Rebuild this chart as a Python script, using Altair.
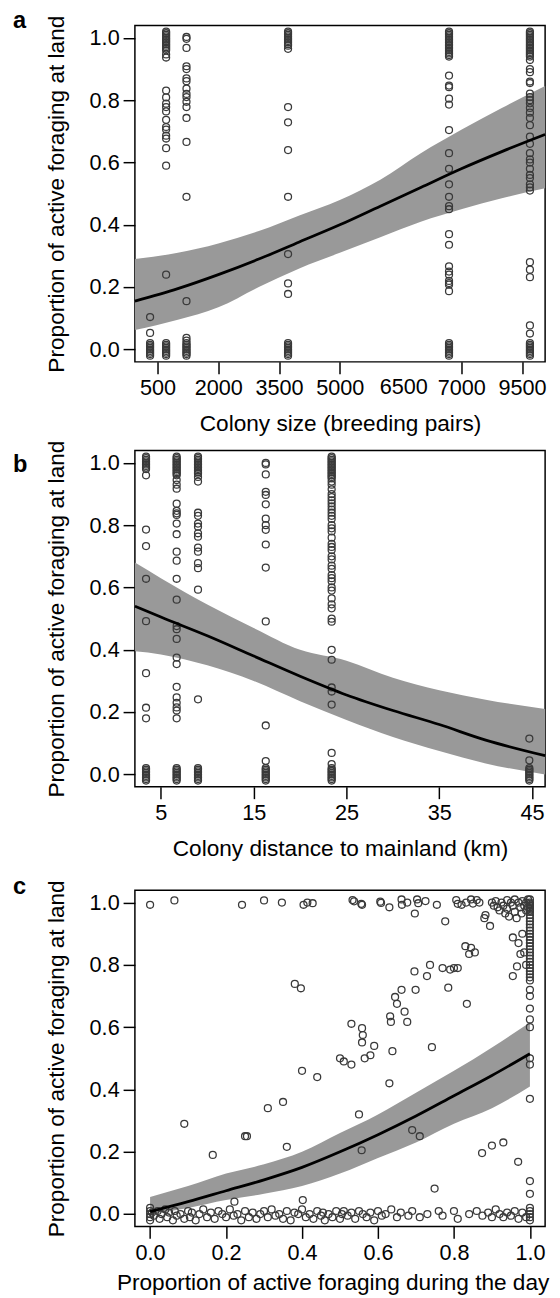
import altair as alt
import pandas as pd

FONT = "Liberation Sans"
W = 417
HA, HB, HC = 342, 342, 342
PT = "#3a3a3a"
RIB = "#999999"
Y_TITLE = "Proportion of active foraging at land"
Y_TICKS = [0.0, 0.2, 0.4, 0.6, 0.8, 1.0]
Y_DOM = [-0.04, 1.04]

zero_stack = [0.02, 0.015, 0.01, 0.005, 0.0, -0.005, -0.01, -0.015, -0.02]
one_stack = [1.02, 1.015, 1.01, 1.005, 1.0, 0.995, 0.99, 0.985, 0.98]

# ---------------- panel a: colony size ----------------
a_col_x = [315, 711, 1214, 3722, 7697, 9695]
a_col_y = [
    [0.104, 0.053] + zero_stack,
    one_stack + [0.975, 0.97, 0.965, 0.96, 0.947, 0.937, 0.831, 0.809, 0.789, 0.778, 0.764,
                 0.737, 0.714, 0.706, 0.686, 0.677, 0.646, 0.59, 0.24] + zero_stack,
    [1.003, 0.997, 0.968, 0.909, 0.90, 0.87, 0.861, 0.837, 0.82, 0.81, 0.795, 0.778, 0.743,
     0.666, 0.49, 0.155, 0.037, 0.028] + zero_stack,
    one_stack + [0.975, 0.965, 0.778, 0.729, 0.64, 0.49, 0.306, 0.212, 0.178] + zero_stack,
    one_stack + [0.975, 0.97, 0.965, 0.96, 0.955, 0.95, 0.945, 0.94, 0.879, 0.847, 0.842, 0.805,
                 0.786, 0.704, 0.63, 0.58, 0.53, 0.49, 0.46, 0.45, 0.37, 0.336, 0.267, 0.25,
                 0.24, 0.22, 0.213, 0.208, 0.187] + zero_stack,
    one_stack + [0.975, 0.97, 0.965, 0.96, 0.955, 0.95, 0.945, 0.94, 0.929, 0.90, 0.89, 0.86,
                 0.855, 0.821, 0.81, 0.80, 0.79, 0.775, 0.76, 0.743, 0.72, 0.683, 0.66, 0.63,
                 0.61, 0.60, 0.58, 0.56, 0.55, 0.53, 0.52, 0.51, 0.28, 0.256, 0.232, 0.077,
                 0.051] + zero_stack,
]
a_fit_x = [-60, 1000, 2000, 3000, 4000, 5000, 6000, 7000, 8000, 9000, 10070]
a_fit = [0.155, 0.195, 0.24, 0.29, 0.345, 0.40, 0.46, 0.52, 0.58, 0.635, 0.69]
a_lo = [0.062, 0.095, 0.135, 0.20, 0.26, 0.31, 0.36, 0.41, 0.45, 0.485, 0.517]
a_hi = [0.29, 0.31, 0.34, 0.38, 0.43, 0.48, 0.545, 0.63, 0.705, 0.775, 0.846]
a_ticks = [500, 2000, 3500, 5000, 8000, 9500]
a_tick_labels = ["500", "2000", "3500", "5000", "7000", "9500"]
a_extra_x = [6580]
a_extra_label = ["6500"]
a_dom = [-60, 10070]

# ---------------- panel b: distance to mainland ----------------
b_col_x = [3.4, 6.7, 9.0, 16.3, 23.4, 44.7]
b_col_y = [
    one_stack + [0.96, 0.786, 0.733, 0.628, 0.492, 0.325, 0.214, 0.18] + zero_stack,
    one_stack + [0.975, 0.97, 0.965, 0.96, 0.945, 0.93, 0.917, 0.869, 0.846, 0.838, 0.833,
                 0.805, 0.771, 0.715, 0.686, 0.628, 0.561, 0.476, 0.466, 0.435, 0.375, 0.354,
                 0.281, 0.247, 0.23, 0.215, 0.205, 0.18] + zero_stack,
    one_stack + [0.975, 0.97, 0.965, 0.955, 0.94, 0.84, 0.83, 0.805, 0.795, 0.774, 0.763,
                 0.728, 0.715, 0.678, 0.662, 0.593, 0.241] + zero_stack,
    [1.0, 0.995, 0.963, 0.907, 0.897, 0.867, 0.821, 0.80, 0.785, 0.738, 0.664, 0.491, 0.157,
     0.043] + zero_stack,
    one_stack + [0.975, 0.97, 0.965, 0.96, 0.955, 0.95, 0.94, 0.93, 0.915, 0.90, 0.89, 0.88,
                 0.87, 0.86, 0.85, 0.84, 0.83, 0.82, 0.80, 0.79, 0.78, 0.76, 0.74, 0.73, 0.72,
                 0.70, 0.69, 0.67, 0.66, 0.64, 0.63, 0.62, 0.60, 0.59, 0.565, 0.546, 0.533,
                 0.50, 0.49, 0.40, 0.368, 0.279, 0.266, 0.224, 0.069, 0.033] + zero_stack,
    [0.115, 0.045] + zero_stack,
]
b_fit_x = [2.2, 5, 10, 15, 20, 25, 30, 35, 40, 46.4]
b_fit = [0.54, 0.505, 0.445, 0.38, 0.315, 0.255, 0.205, 0.16, 0.11, 0.06]
b_lo = [0.395, 0.385, 0.35, 0.30, 0.235, 0.175, 0.12, 0.075, 0.035, 0.0]
b_hi = [0.68, 0.63, 0.545, 0.47, 0.40, 0.365, 0.31, 0.27, 0.24, 0.21]
b_ticks = [5, 15, 25, 35, 45]
b_dom = [2.2, 46.4]

# ---------------- panel c: active foraging during the day ----------------
c_top = [
    [0.0, 0.993], [0.064, 1.007], [0.242, 0.993], [0.30, 1.007], [0.347, 1.0], [0.404, 0.993],
    [0.414, 1.0], [0.428, 0.998], [0.533, 1.008], [0.537, 1.004], [0.556, 0.996], [0.558, 0.993],
    [0.606, 1.003], [0.608, 0.999], [0.63, 0.985], [0.662, 1.01], [0.663, 0.993], [0.677, 1.0],
    [0.697, 0.965], [0.703, 1.01], [0.706, 0.998], [0.725, 1.005], [0.755, 0.993], [0.777, 0.94],
    [0.806, 1.008], [0.81, 0.996], [0.82, 0.993], [0.832, 1.0], [0.845, 1.01], [0.85, 0.997],
    [0.86, 1.008], [0.867, 1.0], [0.88, 0.95], [0.883, 0.96], [0.895, 0.925], [0.90, 1.0],
    [0.905, 0.99], [0.91, 1.005], [0.915, 0.985], [0.92, 0.975], [0.925, 1.0], [0.93, 0.99],
    [0.935, 0.965], [0.94, 1.008], [0.94, 0.98], [0.945, 0.955], [0.95, 1.0], [0.955, 0.99],
    [0.96, 0.97], [0.96, 1.01], [0.965, 0.95], [0.97, 1.0], [0.975, 0.985], [0.978, 0.965],
    [0.98, 1.005], [0.985, 0.99], [0.99, 1.0], [0.99, 0.975], [0.995, 1.01], [0.995, 0.985],
]
c_right_col = [1.01, 1.0, 0.995, 0.99, 0.985, 0.98, 0.975, 0.97, 0.96, 0.95, 0.94, 0.93, 0.92,
               0.91, 0.90, 0.89, 0.88, 0.87, 0.86, 0.85, 0.84, 0.83, 0.82, 0.81, 0.80, 0.79,
               0.78, 0.77, 0.76, 0.75, 0.72, 0.70, 0.66, 0.625, 0.60, 0.50, 0.48, 0.37, 0.106,
               0.065]
c_mid = [
    [0.955, 0.888], [0.966, 0.795], [0.955, 0.764], [0.975, 0.835], [0.98, 0.90], [0.985, 0.84],
    [0.99, 0.80], [0.97, 0.87], [0.83, 0.86], [0.845, 0.855], [0.84, 0.835], [0.855, 0.84],
    [0.737, 0.80], [0.77, 0.79], [0.79, 0.785], [0.80, 0.79], [0.81, 0.79], [0.785, 0.727],
    [0.834, 0.675], [0.729, 0.764], [0.696, 0.779], [0.699, 0.72], [0.662, 0.72], [0.645, 0.697],
    [0.65, 0.675], [0.67, 0.65], [0.632, 0.635], [0.634, 0.617], [0.677, 0.617], [0.53, 0.611],
    [0.558, 0.597], [0.56, 0.575], [0.558, 0.551], [0.638, 0.523], [0.742, 0.536], [0.565, 0.50],
    [0.381, 0.739], [0.397, 0.725], [0.09, 0.29], [0.165, 0.19], [0.222, 0.04], [0.25, 0.25],
    [0.255, 0.25], [0.31, 0.34], [0.35, 0.36], [0.36, 0.216], [0.40, 0.46], [0.44, 0.44],
    [0.402, 0.045], [0.50, 0.50], [0.51, 0.49], [0.53, 0.48], [0.55, 0.32], [0.557, 0.205],
    [0.58, 0.51], [0.59, 0.54], [0.63, 0.42], [0.69, 0.27], [0.71, 0.25], [0.749, 0.082],
    [0.874, 0.196], [0.90, 0.22], [0.93, 0.23], [0.969, 0.168],
]
c_bottom = [
    [0.0, 0.01], [0.0, -0.01], [0.0, 0.0], [0.0, 0.02], [0.0, -0.02], [0.005, 0.005],
    [0.01, -0.005], [0.02, 0.01], [0.025, -0.015], [0.03, 0.0], [0.04, 0.015], [0.045, -0.01],
    [0.05, 0.005], [0.06, -0.02], [0.065, 0.01], [0.07, -0.005], [0.08, 0.0], [0.09, -0.015],
    [0.10, 0.01], [0.105, -0.01], [0.11, 0.005], [0.12, -0.02], [0.13, 0.0], [0.14, 0.015],
    [0.15, -0.01], [0.16, 0.005], [0.17, -0.015], [0.18, 0.01], [0.19, 0.0], [0.20, -0.01],
    [0.21, 0.015], [0.22, -0.005], [0.23, 0.0], [0.24, -0.02], [0.25, 0.01], [0.26, -0.01],
    [0.27, 0.005], [0.28, -0.015], [0.29, 0.0], [0.30, 0.01], [0.31, -0.01], [0.32, 0.015],
    [0.33, -0.005], [0.34, 0.0], [0.35, -0.015], [0.36, 0.01], [0.37, -0.02], [0.38, 0.005],
    [0.39, 0.0], [0.40, 0.015], [0.41, -0.01], [0.42, 0.0], [0.43, -0.015], [0.44, 0.01],
    [0.45, -0.005], [0.455, 0.005], [0.46, -0.02], [0.47, 0.0], [0.48, -0.01], [0.49, 0.01],
    [0.50, -0.015], [0.505, 0.0], [0.51, 0.01], [0.52, -0.005], [0.53, 0.005], [0.54, -0.015],
    [0.55, 0.01], [0.56, 0.0], [0.57, -0.01], [0.58, 0.005], [0.59, -0.02], [0.60, 0.01],
    [0.61, -0.005], [0.62, 0.0], [0.635, 0.015], [0.65, -0.01], [0.66, 0.005], [0.68, -0.005],
    [0.69, 0.01], [0.71, -0.01], [0.73, 0.0], [0.76, 0.01], [0.77, -0.005], [0.80, 0.01],
    [0.81, -0.015], [0.84, 0.0], [0.86, 0.01], [0.875, -0.005], [0.89, 0.005], [0.90, -0.01],
    [0.91, 0.015], [0.92, 0.0], [0.93, -0.01], [0.94, 0.005], [0.95, -0.005], [0.96, 0.01],
    [0.97, -0.015], [0.98, 0.005], [0.99, -0.01], [1.0, 0.02], [1.0, 0.01], [1.0, 0.0],
    [1.0, -0.01], [1.0, -0.02],
]
c_fit_x = [0.0, 0.1, 0.2, 0.3, 0.4, 0.5, 0.6, 0.7, 0.8, 0.9, 1.0]
c_fit = [0.008, 0.04, 0.075, 0.11, 0.15, 0.20, 0.255, 0.315, 0.38, 0.445, 0.515]
c_lo = [0.0, 0.02, 0.045, 0.065, 0.09, 0.13, 0.18, 0.23, 0.29, 0.34, 0.41]
c_hi = [0.055, 0.09, 0.13, 0.16, 0.20, 0.26, 0.32, 0.39, 0.46, 0.535, 0.615]
c_ticks = [0.0, 0.2, 0.4, 0.6, 0.8, 1.0]
c_dom = [-0.04, 1.04]


def cols_to_df(xs, ys_lists):
    return pd.DataFrame([(x, y) for x, ys in zip(xs, ys_lists) for y in ys], columns=["x", "y"])


def panel(pts_df, fit_df, xdom, xticks, xfmt, xtitle, letter, letter_y, h,
          label_expr=None, title_x=None, title_y=70, extra_df=None, top_ext=None):
    xs = alt.Scale(domain=xdom, nice=False, zero=False)
    ys = alt.Scale(domain=Y_DOM, nice=False, zero=False)
    xa_kw = dict(values=xticks, format=xfmt, title=xtitle, titleY=title_y,
                 titleBaseline="alphabetic", titleAlign="center")
    if label_expr is not None:
        xa_kw["labelExpr"] = label_expr
    if title_x is not None:
        xa_kw["titleX"] = title_x
    xa = alt.Axis(**xa_kw)
    ya = alt.Axis(values=Y_TICKS, format=".1f", title=Y_TITLE, titleAngle=-90, titleX=-73,
                  titleY=h / 2, titleBaseline="alphabetic", titleAlign="center")

    def X(f):
        return alt.X(f, type="quantitative", scale=xs, axis=xa)

    def Y(f):
        return alt.Y(f, type="quantitative", scale=ys, axis=ya)

    ribbon = alt.Chart(fit_df).mark_area(color=RIB, opacity=1, interpolate="monotone").encode(
        x=X("x"), y=Y("lo"), y2="hi")
    pts = alt.Chart(pts_df).mark_point(shape="circle", filled=False, size=50, strokeWidth=1.3,
                                       color=PT, opacity=1).encode(x=X("x"), y=Y("y"))
    line = alt.Chart(fit_df).mark_line(color="black", strokeWidth=2.8,
                                       interpolate="monotone").encode(x=X("x"), y=Y("fit"))
    lab_df = pd.DataFrame({"t": [letter]})
    let = alt.Chart(lab_df).mark_text(
        align="left", baseline="alphabetic", font=FONT, fontSize=24, fontWeight="bold",
        color="black").encode(x=alt.value(-124), y=alt.value(letter_y), text="t:N")
    layers = [ribbon, pts, line, let]
    if top_ext is not None:
        # invisible spacer that only widens the gap above this panel
        spacer = alt.Chart(lab_df).mark_point(size=1, opacity=0, filled=True).encode(
            x=alt.value(0), y=alt.value(top_ext))
        layers.append(spacer)
    if extra_df is not None:
        extra = alt.Chart(extra_df).mark_text(
            align="center", baseline="top", font=FONT, fontSize=22, color="black").encode(
            x=X("x"), y=alt.value(h + 16), text="t:N")
        layers.append(extra)
    return alt.layer(*layers).properties(width=W, height=h)


a_pts = cols_to_df(a_col_x, a_col_y)
a_fitdf = pd.DataFrame({"x": a_fit_x, "fit": a_fit, "lo": a_lo, "hi": a_hi})
a_expr = "".join(f"datum.value == {v} ? '{l}' : " for v, l in zip(a_ticks, a_tick_labels)) + "datum.label"
a_extra = pd.DataFrame({"x": a_extra_x, "t": a_extra_label})

b_pts = cols_to_df(b_col_x, b_col_y)
b_fitdf = pd.DataFrame({"x": b_fit_x, "fit": b_fit, "lo": b_lo, "hi": b_hi})

c_pairs = c_top + [[1.0, v] for v in c_right_col] + c_mid + c_bottom
c_pts = pd.DataFrame(c_pairs, columns=["x", "y"])
c_fitdf = pd.DataFrame({"x": c_fit_x, "fit": c_fit, "lo": c_lo, "hi": c_hi})

pa = panel(a_pts, a_fitdf, a_dom, a_ticks, "d", "Colony size (breeding pairs)", "a", 3, HA,
           label_expr=a_expr, extra_df=a_extra)
pb = panel(b_pts, b_fitdf, b_dom, b_ticks, "d", "Colony distance to mainland (km)", "b", 22, HB)
pc = panel(c_pts, c_fitdf, c_dom, c_ticks, ".1f", "Proportion of active foraging during the day",
           "c", 4, HC, title_x=201, title_y=64, top_ext=-25)

chart = alt.vconcat(pa, pb, pc, spacing=2).properties(
    padding={"left": 4, "top": -10, "right": 0, "bottom": 0},
    background="white",
).configure_view(stroke="black", strokeWidth=1.5).configure_axis(
    labelFont=FONT, labelFontSize=22, labelColor="black", titleFont=FONT, titleFontSize=23,
    titleFontWeight="normal", titleColor="black", tickColor="black", tickWidth=1.5, tickSize=12,
    labelPadding=4, domain=False, grid=False, labelFlush=False, labelOverlap=False
)

chart.save("out.html", embed_options={"renderer": "svg", "actions": False})
